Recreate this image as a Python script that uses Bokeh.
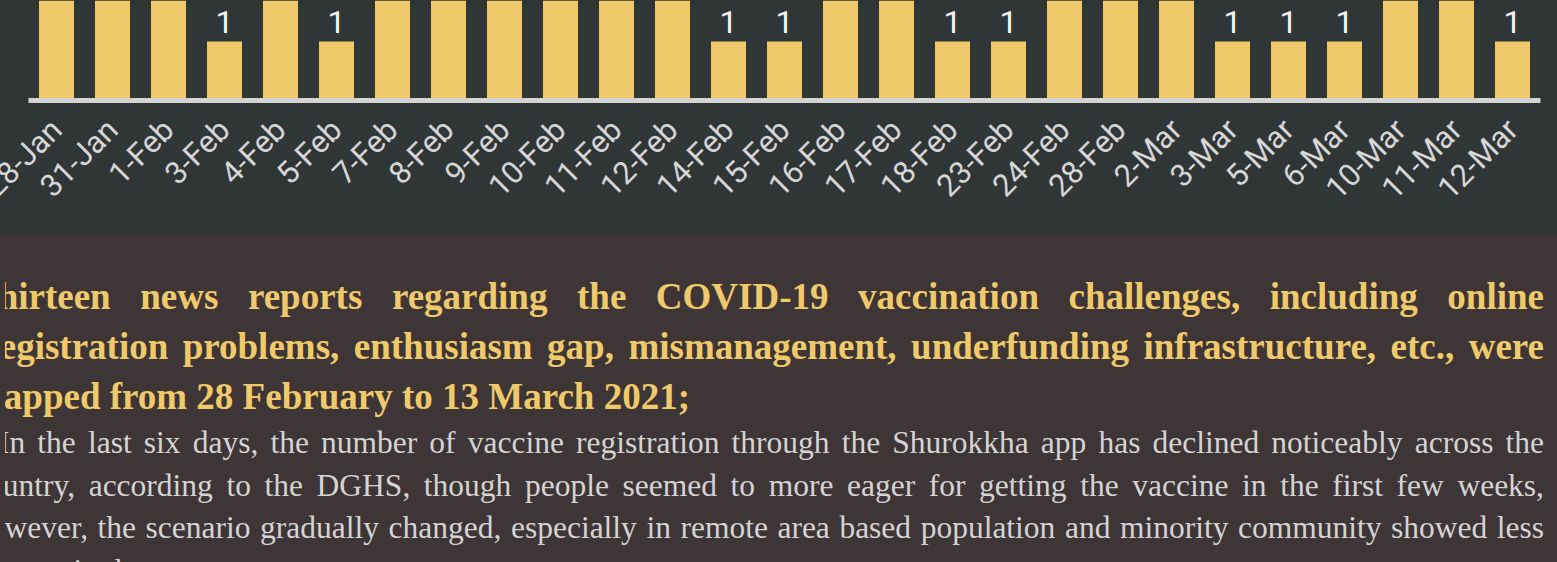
import math
from bokeh.plotting import figure
from bokeh.models import ColumnDataSource, FactorRange, Div, GlobalInlineStyleSheet
from bokeh.layouts import column
from bokeh.core.properties import value
from bokeh.transform import dodge
from bokeh.embed import file_html
from bokeh.resources import INLINE

# ---- data ----
dates = ["28-Jan", "31-Jan", "1-Feb", "3-Feb", "4-Feb", "5-Feb", "7-Feb", "8-Feb",
         "9-Feb", "10-Feb", "11-Feb", "12-Feb", "14-Feb", "15-Feb", "16-Feb", "17-Feb",
         "18-Feb", "23-Feb", "24-Feb", "28-Feb", "2-Mar", "3-Mar", "5-Mar", "6-Mar",
         "10-Mar", "11-Mar", "12-Mar"]
counts = [2, 3, 2, 1, 2, 1, 3, 2, 2, 4, 3, 2, 1, 1, 2, 3, 1, 1, 2, 3, 2, 1, 1, 1, 2, 2, 1]
labels = [str(c) for c in counts]

title_text = ("Thirteen news reports regarding the COVID-19 vaccination challenges, including online "
              "Registration problems, enthusiasm gap, mismanagement, underfunding infrastructure, etc., were "
              "mapped from 28 February to 13 March 2021;")
body_text = ("In the last six days, the number of vaccine registration through the Shurokkha app has declined "
             "noticeably across the country, according to the DGHS, though people seemed to more eager for "
             "getting the vaccine in the first few weeks, however, the scenario gradually changed, especially "
             "in remote area based population and minority community showed less interest in that.")

CHART_BG = "#303536"
TEXT_BG = "#3e3536"
GOLD = "#f0ca6a"

PX_PER_UNIT = 59   # vertical scale: frame of 100 px
LEFT_BLEED = 40    # canvas extends this far left of the window so the first label is cut like the reference
src = ColumnDataSource(dict(x=dates, top=counts, label=labels))

p = figure(x_range=FactorRange(*dates), y_range=(0, 100 / PX_PER_UNIT),
           width=1557 + LEFT_BLEED, height=235, output_backend="svg", toolbar_location=None,
           min_border_left=28 + LEFT_BLEED, min_border_right=17, min_border_top=0, min_border_bottom=135,
           styles={"transform": "translateX(-%dpx)" % LEFT_BLEED})
p.background_fill_color = CHART_BG
p.border_fill_color = CHART_BG
p.outline_line_color = None
p.grid.visible = False
p.yaxis.visible = False

p.vbar(x="x", top="top", width=0.625, source=src, color=GOLD, line_color=None)
p.text(x="x", y=dodge("top", 20 / PX_PER_UNIT), text="label", source=src, text_align="center",
       text_baseline="alphabetic", text_color="#f2f2f2",
       text_font=value("Roboto"), text_font_size="32px")

ax = p.xaxis
ax.axis_line_color = "#d3d3d3"
ax.axis_line_width = 5
ax.major_tick_line_color = None
ax.minor_tick_line_color = None
ax.major_label_orientation = math.pi / 4
ax.major_label_text_font = "Roboto"
ax.major_label_text_font_size = "31px"
ax.major_label_text_color = "#d6d6d6"
ax.major_label_standoff = 18

html = (
    "<div style=\"margin-left:-32px; width:1571px; padding-top:32px; "
    "font-family:'Liberation Serif','Times New Roman',serif;\">"
    f"<div style=\"color:{GOLD}; font-weight:bold; font-size:37px; line-height:50px; text-align:justify;\">{title_text}</div>"
    f"<div style=\"color:#d4d4d4; font-size:31.5px; line-height:42.5px; text-align:justify; text-indent:26px;\">{body_text}</div>"
    "</div>"
)
div = Div(text=html, width=1557, height=327,
          styles={"background-color": TEXT_BG, "overflow": "hidden"})

page_css = GlobalInlineStyleSheet(css=(
    "html, body { background-color: %s; }"
    "body { background-image: linear-gradient(to bottom, %s 0px, %s 235px, %s 235px, %s 100%%);"
    " background-repeat: no-repeat; overflow: hidden; }" % (TEXT_BG, CHART_BG, CHART_BG, TEXT_BG, TEXT_BG)
))

layout = column(p, div, spacing=0, stylesheets=[page_css])

open("out.html", "w").write(file_html(layout, INLINE))
